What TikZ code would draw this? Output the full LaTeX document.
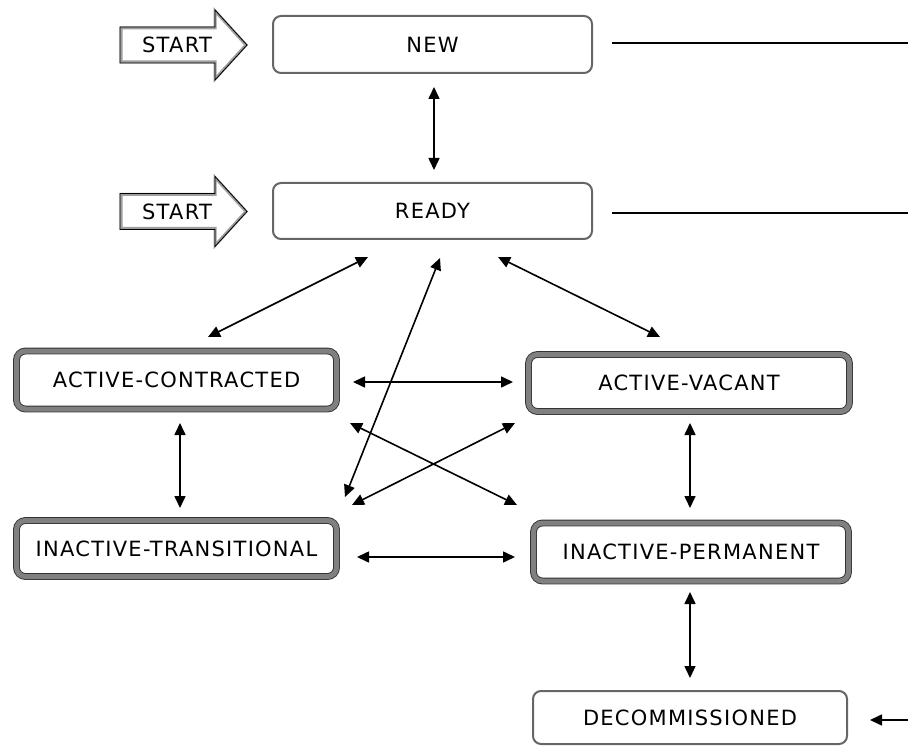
\documentclass[tikz,border=0pt]{standalone}
\usepackage{fontspec}
\setmainfont[LetterSpace=6]{DejaVu Sans}
\usetikzlibrary{arrows.meta,calc}
\begin{document}
\begin{tikzpicture}[x=1pt,y=-1pt,
  font=\fontsize{21}{24}\selectfont,
  plainbox/.style={draw=black!60, line width=2pt, rounded corners=8pt, fill=white, inner sep=0pt},
  dblbox/.style={draw=black!80, line width=0.9pt, double=gray, double distance=5pt, rounded corners=9pt, fill=white, inner sep=0pt},
  conn/.style={line width=1.6pt, {Triangle[length=12pt,width=11pt]}-{Triangle[length=12pt,width=11pt]}},
  oneway/.style={line width=1.6pt, -{Triangle[length=12pt,width=11pt]}},
  plainline/.style={line width=1.5pt},
  startarrow/.style={fill=white, draw=gray!75, line width=3pt, line join=miter},
  startedge/.style={draw=black, line width=0.8pt, line join=miter}
]
\useasboundingbox (0,0) rectangle (908,746);

% START arrows
\foreach \dy/\nm in {0/s1,166.5/s2}{
  \begin{scope}[yshift=-\dy pt]
    \path[startarrow] (121,28) -- (215,28) -- (215,11) -- (246,45) -- (215,79) -- (215,62) -- (121,62) -- cycle;
    \path[startedge] (120,27) -- (215,27) -- (215,10) -- (247,45) -- (215,80) -- (215,63) -- (120,63) -- cycle;
    \node (\nm) at (177,45) {START};
  \end{scope}
}

% state boxes
\node[plainbox, minimum width=319pt, minimum height=57pt] (new) at (432.5,44.5) {NEW};
\node[plainbox, minimum width=319pt, minimum height=56pt] (ready) at (432.5,211) {READY};
\node[dblbox, minimum width=320pt, minimum height=58pt] (ac) at (176.5,380) {ACTIVE-CONTRACTED};
\node[dblbox, minimum width=320pt, minimum height=56pt] (it) at (176.5,548.5) {INACTIVE-TRANSITIONAL};
\node[dblbox, minimum width=321pt, minimum height=57pt] (av) at (689,383) {ACTIVE-VACANT};
\node[dblbox, minimum width=315pt, minimum height=58pt] (ip) at (691,552) {INACTIVE-PERMANENT};
\node[plainbox, minimum width=314pt, minimum height=53pt] (dec) at (690,717.5) {DECOMMISSIONED};

% free ends
\coordinate (newout) at (908,43);
\coordinate (readyout) at (908,213);
\coordinate (decin) at (908,720);

% connectors
\draw[plainline] ($(new.center)+(179.5,-1.5)$) -- (newout);
\draw[plainline] ($(ready.center)+(179.5,2)$) -- (readyout);
\draw[oneway] (decin) -- ($(dec.center)+(180,2.5)$);

\draw[conn] ($(new.center)+(1.5,42.5)$) -- ($(ready.center)+(1.5,-41)$);
\draw[conn] ($(ready.center)+(-64.5,46)$) -- ($(ac.center)+(31.5,-43)$);
\draw[conn] ($(ready.center)+(7.5,47)$) -- ($(it.center)+(168.5,-51.5)$);
\draw[conn] ($(ready.center)+(65.5,46)$) -- ($(av.center)+(-29,-46)$);
\draw[conn] ($(ac.center)+(176.5,2)$) -- ($(av.center)+(-176,-1)$);
\draw[conn] ($(ac.center)+(173.5,43)$) -- ($(ip.center)+(-174,-47)$);
\draw[conn] ($(av.center)+(-174,40)$) -- ($(it.center)+(175.5,-43.5)$);
\draw[conn] ($(it.center)+(180.5,8.5)$) -- ($(ip.center)+(-176,5)$);
\draw[conn] ($(ac.center)+(3.5,43)$) -- ($(it.center)+(3.5,-40.5)$);
\draw[conn] ($(av.center)+(1,40)$) -- ($(ip.center)+(-1,-44)$);
\draw[conn] ($(ip.center)+(-1,40)$) -- ($(dec.center)+(0,-39.5)$);
\end{tikzpicture}
\end{document}
